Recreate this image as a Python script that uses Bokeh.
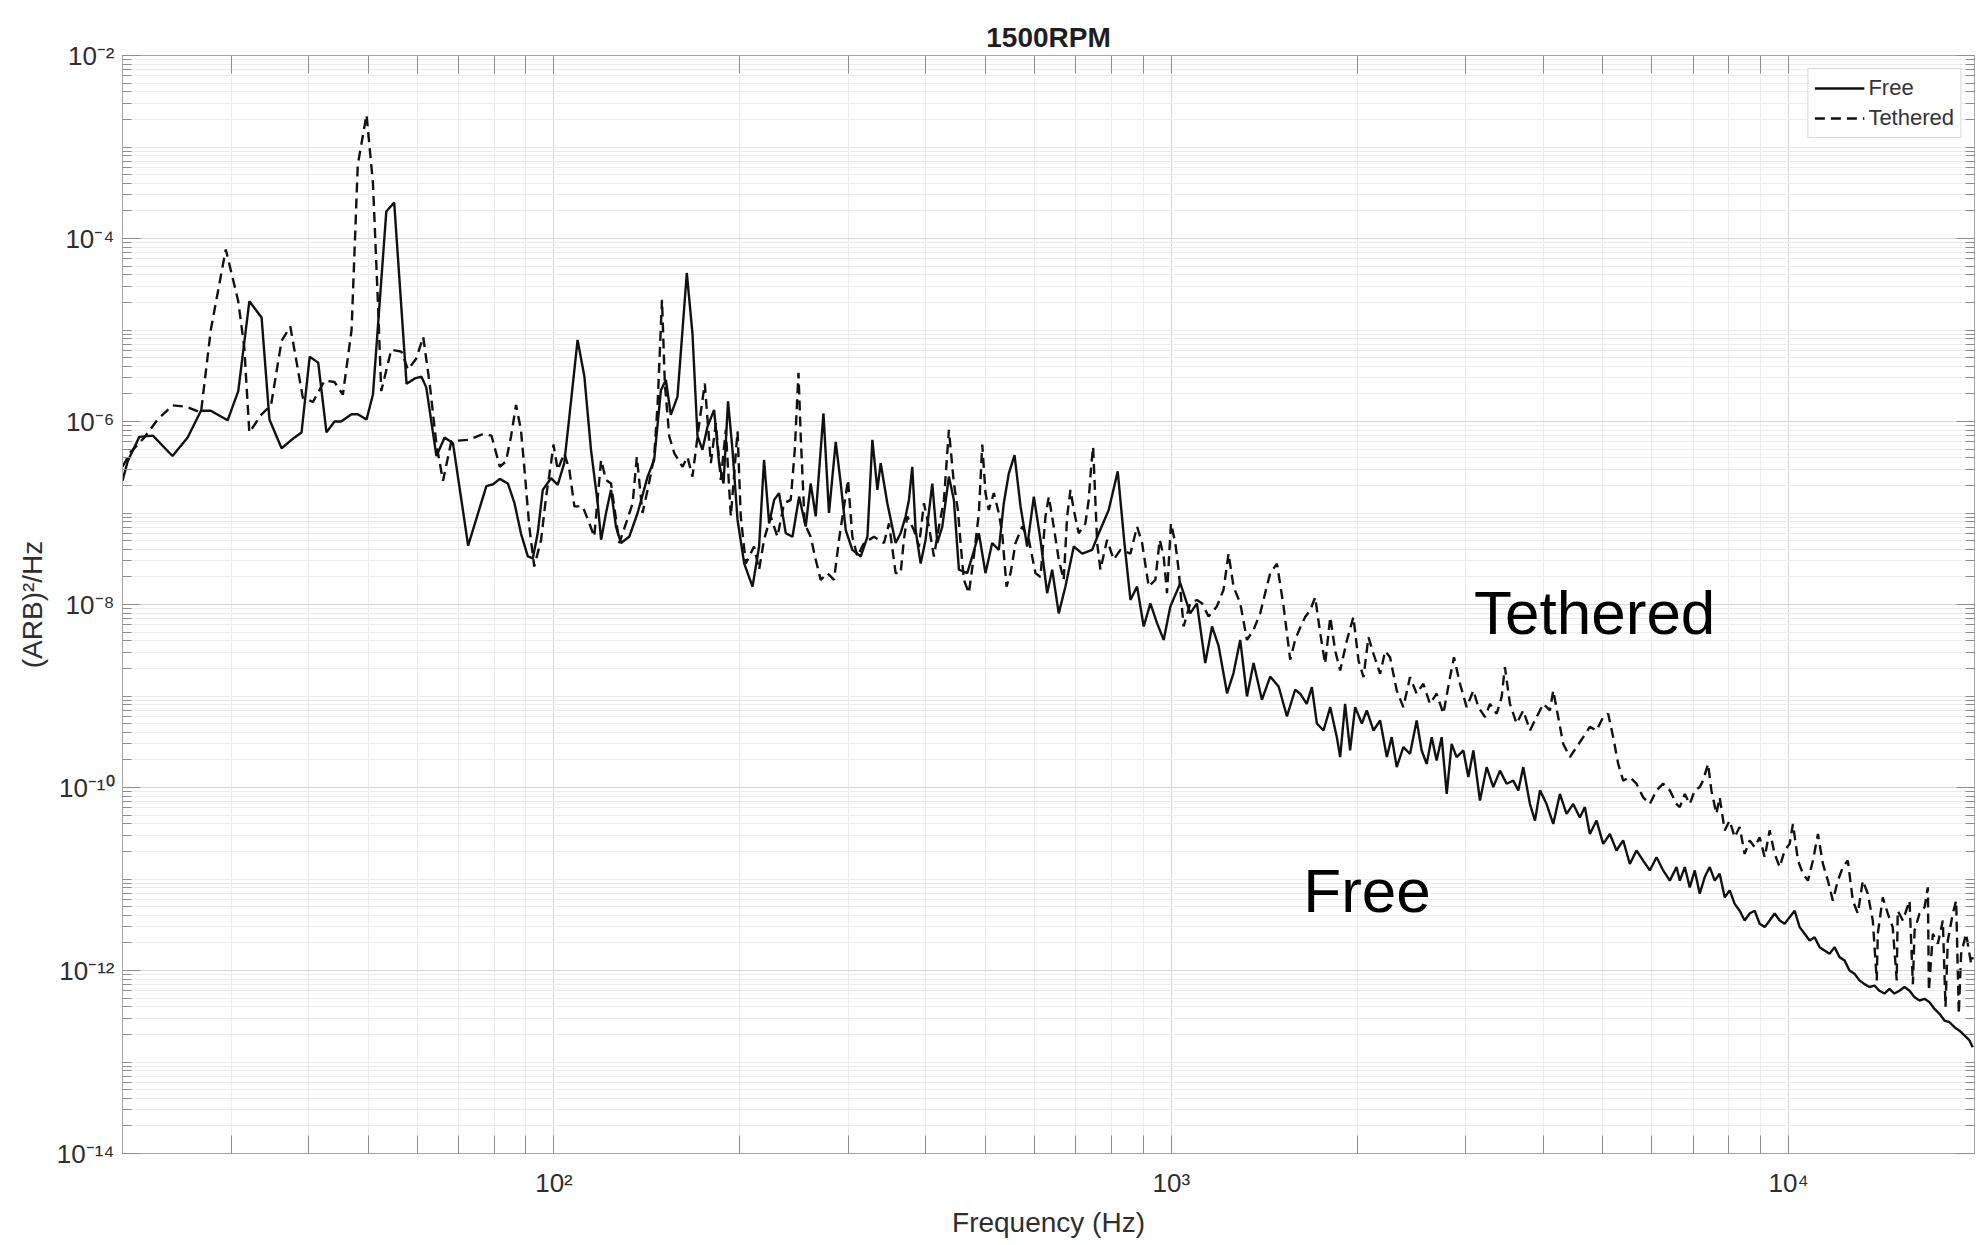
from bokeh.plotting import figure
from bokeh.models import (FixedTicker, LogAxis, CustomJSTickFormatter, Label,
                          Legend, LegendItem)
from bokeh.embed import file_html
from bokeh.resources import INLINE

FONT = "Liberation Sans"

# ---------------- data ----------------
# Free (solid): (frequency Hz, PSD (ARB)^2/Hz)
free_low = [(20.0,2.25e-7),(20.4,3.7e-7),(21.3,6.8e-7),(22.4,7.0e-7),(24.1,4.2e-7),(25.5,6.7e-7),
            (26.8,1.31e-6),(27.8,1.31e-6),(29.6,1.03e-6),(30.8,2.15e-6),(32.1,2.06e-5),(33.6,1.37e-5),
            (34.6,1.05e-6),(36.2,5.1e-7),(38.0,6.7e-7),(39.0,7.6e-7),(40.2,5.1e-6),(41.5,4.4e-6),
            (42.8,7.6e-7),(44.1,1.0e-6),(45.2,1.0e-6),(47.0,1.2e-6),(48.1,1.2e-6),(49.7,1.05e-6),
            (50.9,1.97e-6),(53.5,1.97e-4),(55.1,2.47e-4),(57.7,2.58e-6),(59.5,2.96e-6),(61.0,3.09e-6),
            (62.1,2.36e-6),(64.5,4.2e-7),(66.5,6.7e-7),(68.6,5.8e-7),(72.6,4.4e-8),(77.7,1.97e-7),
            (79.7,2.06e-7),(81.7,2.36e-7)]
free_mid = [(84.2,2.1e-7),(86.3,1.28e-7),(88.4,6.0e-8),(90.7,3.35e-8),(92.4,3.2e-8),(94.1,6.0e-8),
            (95.9,1.79e-7),(98.9,2.4e-7),(101.4,2.03e-7),(103.9,3.5e-7),(105.9,1.13e-6),(109.2,7.8e-6),
            (112.0,3.1e-6),(114.8,4.9e-7),(117.7,1.28e-7),(119.2,5.1e-8),(121.4,9.95e-8),(123.7,1.79e-7),
            (126.0,7.1e-8),(128.4,4.7e-8),(132.4,5.5e-8),(136.6,1.0e-7),(141.8,2.5e-7),(145.3,3.8e-7),
            (149.0,2.2e-6),(151.8,2.85e-6),(154.6,1.18e-6),(158.5,1.87e-6),(161.5,1.0e-5),(164.1,4.2e-5),
            (167.6,9.2e-6),(170.8,6.9e-7),(174.0,4.9e-7),(177.3,8.8e-7),(181.7,1.34e-6),(185.1,3.5e-7),
            (188.2,2.1e-7),(191.4,1.66e-6),(194.6,4.9e-7),(198.3,8.4e-8),(203.3,2.8e-8),(209.7,1.57e-8),
            (214.9,4.3e-8),(218.9,3.8e-7),(223.1,7.7e-8),(227.3,1.39e-7),(231.5,1.65e-7),(237.4,6.0e-8),
            (243.4,5.5e-8),(249.5,1.51e-7),(255.7,7.1e-8),(260.5,2.1e-7),(265.4,9.2e-8),(273.2,1.23e-6),
            (278.9,1.0e-7),(286.0,6.0e-7),(291.4,2.1e-7),(296.9,6.5e-8),(304.3,3.95e-8),(314.0,3.35e-8),
            (321.9,5.5e-8),(327.9,6.3e-7),(334.1,1.79e-7),(338.2,3.5e-7),(346.7,1.28e-7),(357.6,4.7e-8)]
free_upper = [(364.3,6.0e-8),(371.2,9.2e-8),(375.8,1.39e-7),(380.5,3.2e-7),(385.3,6.5e-8),(392.6,2.8e-8),
              (399.9,5.1e-8),(410.0,2.1e-7),(417.7,4.7e-8),(425.6,7.1e-8),(436.2,2.5e-7),(444.4,1.39e-7),
              (452.8,2.4e-8),(467.1,2.2e-8),(475.9,3.35e-8),(487.8,6.0e-8),(500.0,2.2e-8),(512.6,4.7e-8),
              (525.5,3.95e-8),(535.3,1.28e-7),(545.4,2.7e-7),(557.2,4.3e-7),(569.8,1.18e-7),(584.1,4.3e-8),
              (598.8,1.51e-7),(613.8,5.1e-8),(629.3,1.33e-8),(641.2,2.4e-8),(657.1,8.0e-9),(673.7,1.57e-8),
              (695.0,4.3e-8),(717.1,3.6e-8),(744.3,3.95e-8),(762.9,6.0e-8),(791.7,1.08e-7),(818.8,2.85e-7),
              (839.5,4.7e-8),(858.5,1.12e-8),(880.1,1.57e-8),(902.1,5.75e-9),(924.8,1.03e-8),(948.1,6.25e-9),
              (971.8,4.1e-9),(996.3,9.5e-9),(1034,1.71e-8),(1073,8.0e-9),(1100,1.03e-8),(1135,2.29e-9),
              (1164,5.75e-9),(1193,3.5e-9),(1231,1.07e-9),(1261,1.78e-9),(1293,4.1e-9),(1326,9.9e-10),
              (1359,2.29e-9),(1402,9.1e-10),(1446,1.63e-9),(1492,1.27e-9),(1539,6.0e-10),(1587,1.17e-9)]
free_khz = [(1617,1.06e-9),(1657,8.2e-10),(1689,1.25e-9),(1721,5.0e-10),(1764,4.2e-10),(1809,7.55e-10),
            (1854,3.55e-10),(1877,2.15e-10),(1912,8.2e-10),(1948,2.54e-10),(1985,7.55e-10),(2035,5.0e-10),
            (2073,6.95e-10),(2125,4.2e-10),(2179,5.4e-10),(2234,2.15e-10),(2275,3.55e-10),(2318,1.67e-10),
            (2376,2.76e-10),(2436,2.33e-10),(2497,5.4e-10),(2544,2.54e-10),(2592,1.81e-10),(2641,3.55e-10),
            (2690,1.97e-10),(2741,3.55e-10),(2793,8.5e-11),(2845,3.0e-10),(2898,2.15e-10),(2972,2.54e-10),
            (3028,1.3e-10),(3085,2.54e-10),(3162,7.2e-11),(3242,1.67e-10),(3323,1.01e-10),(3407,1.53e-10),
            (3492,1.1e-10),(3580,1.19e-10),(3648,9.3e-11),(3716,1.67e-10),(3810,6.6e-11),(3882,4.35e-11),
            (3955,9.3e-11),(4054,6.6e-11),(4156,4.0e-11),(4260,8.5e-11),(4367,5.15e-11),(4477,6.6e-11),
            (4589,4.7e-11),(4676,6.1e-11),(4764,3.1e-11),(4884,4.35e-11),(5007,2.42e-11),(5133,3.1e-11),
            (5262,2.05e-11),(5394,2.64e-11),(5530,1.46e-11),(5669,2.05e-11),(5812,1.59e-11),(5958,1.24e-11),
            (6109,1.73e-11),(6262,1.24e-11),(6420,9.6e-12),(6582,1.35e-11)]
free_top = [(6663,9.6e-12),(6788,1.35e-11),(6915,8.1e-12),(7045,1.24e-11),(7177,6.9e-12),(7312,1.05e-11),
            (7449,1.35e-11),(7590,9.6e-12),(7731,1.14e-11),(7877,6.3e-12),(8025,7.5e-12),(8176,5.35e-12),
            (8330,4.5e-12),(8486,3.52e-12),(8646,4.2e-12),(8809,4.5e-12),(8975,3.24e-12),(9144,2.98e-12),
            (9316,3.52e-12),(9491,4.2e-12),(9670,3.52e-12),(9852,3.24e-12),(10037,3.83e-12),(10226,4.5e-12),
            (10418,2.98e-12),(10614,2.52e-12),(10813,2.13e-12),(11016,2.31e-12),(11223,1.8e-12),(11434,1.65e-12),
            (11649,1.52e-12),(11866,1.8e-12),(12089,1.4e-12),(12316,1.29e-12),(12547,1.0e-12),(12783,9.2e-13),
            (13023,7.8e-13),(13268,7.1e-13),(13517,6.6e-13),(13771,6.85e-13),(14030,6.0e-13),(14294,5.6e-13),
            (14562,6.3e-13),(14834,5.6e-13),(15113,6.0e-13),(15406,6.6e-13),(15697,6.0e-13),(15993,5.1e-13),
            (16293,4.7e-13),(16600,4.9e-13),(16912,4.5e-13),(17229,3.8e-13),(17553,3.36e-13),(17883,2.84e-13),
            (18219,2.72e-13),(18561,2.4e-13),(18909,2.2e-13),(19264,1.95e-13),(19627,1.72e-13),(19872,1.45e-13)]

# Tethered (dashed)
teth_low = [(20.0,3.2e-7),(20.6,4.6e-7),(21.7,6.7e-7),(22.8,1.05e-6),(24.1,1.5e-6),(25.4,1.45e-6),
            (26.8,1.25e-6),(27.8,1.0e-5),(29.4,7.6e-5),(30.8,2.06e-5),(31.5,6.4e-6),(32.1,7.6e-7),
            (33.6,1.2e-6),(34.8,1.5e-6),(36.2,7.6e-6),(37.4,1.09e-5),(39.2,1.8e-6),(40.7,1.64e-6),
            (42.5,2.8e-6),(44.1,2.7e-6),(45.5,1.97e-6),(47.0,1.0e-5),(48.1,6.4e-4),(49.7,2.25e-3),
            (50.9,4.06e-4),(51.9,1.72e-5),(52.5,2.15e-6),(54.5,6.1e-6),(56.6,5.8e-6),(58.0,3.7e-6),
            (59.8,4.85e-6),(61.4,8.4e-6),(62.9,2.58e-6),(64.5,5.6e-7),(66.1,2.25e-7),(68.2,6.1e-7),
            (72.6,6.3e-7),(76.8,7.3e-7),(79.2,7.0e-7),(81.7,3.2e-7)]
teth_mid = [(83.6,3.66e-7),(85.2,6.9e-7),(86.8,1.52e-6),(88.4,8.1e-7),(89.5,3.2e-7),(91.2,7.1e-8),
            (92.9,2.6e-8),(95.3,5.1e-8),(97.1,1.51e-7),(98.9,3.5e-7),(99.8,5.6e-7),(101.4,2.96e-7),
            (103.9,4.5e-7),(105.9,2.96e-7),(107.9,1.18e-7),(111.3,1.18e-7),(114.1,7.7e-8),(116.2,5.5e-8),
            (119.2,3.8e-7),(121.4,2.3e-7),(123.7,2.1e-7),(127.6,4.7e-8),(130.8,7.7e-8),(134.1,1.28e-7),
            (136.2,4.1e-7),(139.1,1.0e-7),(141.8,1.79e-7),(145.3,4.1e-7),(147.2,1.58e-6),(149.6,2.14e-5),
            (151.2,2.6e-6),(153.7,6.9e-7),(156.6,4.5e-7),(161.5,3.2e-7),(164.5,4.1e-7),(167.6,2.5e-7),
            (171.9,9.6e-7),(175.5,2.6e-6),(179.5,3.5e-7),(182.9,9.6e-7),(186.3,2.3e-7),(189.8,8.1e-7),
            (193.4,9.2e-8),(198.3,7.8e-7),(200.7,9.2e-8),(204.5,2.8e-8),(210.9,4.3e-8),(214.9,2.4e-8),
            (218.9,5.1e-8),(224.4,9.2e-8),(230.1,5.5e-8),(235.9,1.28e-7),(241.8,1.39e-7),(245.5,4.9e-7),
            (248.9,3.4e-6),(251.0,6.9e-7),(254.7,7.7e-8),(260.5,5.5e-8),(265.4,3.1e-8),(270.4,1.86e-8),
            (277.3,2.2e-8),(284.2,1.86e-8),(289.5,5.1e-8),(295.0,1.18e-7),(299.4,2.3e-7),(304.3,5.5e-8),
            (310.1,3.35e-8),(317.8,4.7e-8),(329.9,5.5e-8),(342.4,4.7e-8),(348.9,7.7e-8),(357.6,2.2e-8)]
teth_upper = [(364.3,2.2e-8),(368.8,5.1e-8),(373.5,9.2e-8),(382.9,6.5e-8),(390.1,4.3e-8),(397.4,1.28e-7),
              (404.9,7.1e-8),(412.5,3.35e-8),(420.3,7.1e-8),(428.2,1.39e-7),(436.2,8.1e-7),(444.4,2.1e-7),
              (451.1,1.08e-7),(455.6,4.7e-8),(461.3,1.86e-8),(469.9,1.33e-8),(478.7,3.35e-8),(487.8,9.95e-8),
              (494.0,5.6e-7),(500.0,1.65e-7),(506.2,1.08e-7),(515.8,1.65e-7),(525.5,9.95e-8),(532.1,6.0e-8),
              (540.8,1.57e-8),(549.0,2.2e-8),(559.3,4.7e-8),(573.4,7.1e-8),(587.7,5.1e-8),(602.5,2.2e-8),
              (613.8,2.0e-8),(625.4,9.2e-8),(633.2,1.51e-7),(644.9,7.1e-8),(657.1,3.1e-8),(669.4,1.86e-8),
              (678.0,9.2e-8),(686.5,1.79e-7),(695.0,1.08e-7),(707.9,6.0e-8),(725.8,7.7e-8),(734.8,1.39e-7),
              (741.5,3.2e-7),(747.0,5.3e-7),(758.3,4.7e-8),(767.6,2.4e-8),(787.0,5.1e-8),(806.5,3.1e-8),
              (827.0,3.95e-8),(858.5,3.6e-8),(880.1,7.1e-8),(896.7,4.7e-8),(919.1,1.57e-8),(942.2,1.86e-8),
              (957.6,5.1e-8),(971.8,3.35e-8),(984.0,1.33e-8),(998.8,7.7e-8),(1015,4.7e-8),(1027.5,2.4e-8),
              (1046.9,5.75e-9),(1073,1.03e-8),(1100,1.12e-8),(1121,1.03e-8),(1149,7.4e-9),(1185,9.5e-9),
              (1215,1.45e-8),(1238,3.6e-8),(1261,1.57e-8),(1293,1.03e-8),(1326,4.1e-9),(1359,5.3e-9),
              (1393,8.0e-9),(1419,1.33e-8),(1446,2.2e-8),(1483,2.8e-8),(1520,9.5e-9),(1558,2.5e-9),
              (1587,4.1e-9)]
teth_khz = [(1617,5.6e-9),(1647,7.3e-9),(1678,8.6e-9),(1710,1.2e-8),(1743,4.8e-9),(1775,2.25e-9),
            (1809,7.3e-9),(1843,3.1e-9),(1877,1.9e-9),(1924,4.0e-9),(1972,7.3e-9),(2010,2.44e-9),
            (2048,1.61e-9),(2086,4.4e-9),(2125,2.9e-9),(2179,1.75e-9),(2220,3.1e-9),(2261,2.65e-9),
            (2318,1.15e-9),(2376,7.55e-10),(2436,1.61e-9),(2497,1.06e-9),(2560,1.36e-9),(2624,8.2e-10),
            (2690,1.06e-9),(2758,6.4e-10),(2828,1.61e-9),(2870,2.65e-9),(2935,1.36e-9),(3009,7.55e-10),
            (3085,1.15e-9),(3143,7.55e-10),(3222,5.9e-10),(3282,8.2e-10),(3365,6.4e-10),(3428,9.7e-10),
            (3470,2.07e-9),(3536,8.2e-10),(3625,5.0e-10),(3716,6.95e-10),(3810,4.2e-10),(3906,5.9e-10),
            (4004,8.2e-10),(4104,6.95e-10),(4156,1.15e-9),(4233,5.9e-10),(4313,3.0e-10),(4422,2.15e-10),
            (4533,2.76e-10),(4647,3.55e-10),(4764,4.6e-10),(4884,4.2e-10),(5007,5.9e-10),(5101,6.4e-10),
            (5197,3.55e-10),(5295,1.81e-10),(5394,1.19e-10),(5530,1.3e-10),(5669,1.1e-10),(5812,7.8e-11),
            (5958,6.6e-11),(6109,9.3e-11),(6262,1.1e-10),(6420,9.3e-11),(6582,6.6e-11)]
teth_top = [(6663,6.1e-11),(6788,8.5e-11),(6915,6.6e-11),(7045,9.3e-11),(7177,1.01e-10),(7267,1.19e-10),
            (7403,1.81e-10),(7496,9.3e-11),(7637,5.15e-11),(7731,7.8e-11),(7877,3.4e-11),(8025,4.35e-11),
            (8176,2.86e-11),(8330,3.7e-11),(8486,1.88e-11),(8646,2.64e-11),(8809,2.23e-11),(8975,2.86e-11),
            (9144,1.73e-11),(9316,3.4e-11),(9491,1.88e-11),(9670,1.35e-11),(9852,2.05e-11),(10037,2.42e-11),
            (10162,4.0e-11),(10354,1.59e-11),(10548,1.14e-11),(10746,9.6e-12),(10948,1.59e-11),(11154,3.1e-11),
            (11363,1.46e-11),(11576,9.6e-12),(11792,5.8e-12),(12014,9.6e-12),(12240,1.35e-11),(12469,1.59e-11),
            (12704,5.8e-12),(12943,4.2e-12),(13186,9.6e-12),(13433,6.9e-12),(13686,3.52e-12),(13890,7.8e-13),
            (13943,2.52e-12),(14205,6.3e-12),(14472,4.2e-12),(14742,2.98e-12),(14964,7.8e-13),(15020,4.5e-12),
            (15311,3.52e-12),(15697,5.8e-12),(15893,7.1e-13),(15993,2.74e-12),(16293,4.2e-12),(16600,4.9e-12),
            (16807,8.1e-12),(16870,6.0e-13),(17124,2.52e-12),(17444,1.96e-12),(17772,3.52e-12),(17949,4.0e-13),
            (18106,2.13e-12),(18446,4.2e-12),(18676,5.8e-12),(18862,3.36e-13),(19027,1.52e-12),(19384,2.52e-12),
            (19749,1.18e-12),(19872,1.4e-12)]

free_pts = free_low + free_mid + free_upper + free_khz + free_top
teth_pts = teth_low + teth_mid + teth_upper + teth_khz + teth_top
free_freq = [f for f, v in free_pts]
free_psd = [v for f, v in free_pts]
teth_freq = [f for f, v in teth_pts]
teth_psd = [v for f, v in teth_pts]

x_major = [100, 1000, 10000]
x_minor = [m * d for d in (10, 100, 1000) for m in range(2, 10) if 20 <= m * d <= 20000 and m * d not in x_major]
y_major = [10.0 ** e for e in range(-14, -1, 2)]
y_minor = [m * 10.0 ** e for e in range(-14, -2) for m in range(1, 10) if not (m == 1 and e % 2 == 0)]

# ---------------- figure ----------------
p = figure(x_axis_type="log", y_axis_type="log", x_range=(20, 20000), y_range=(1e-14, 1e-2),
           frame_width=1852, frame_height=1098,
           min_border_left=122, min_border_right=5, min_border_top=55, min_border_bottom=86,
           output_backend="svg", toolbar_location=None, title="1500RPM")
p.background_fill_color = "white"
p.border_fill_color = "white"
p.outline_line_color = "#a6a6a6"
p.outline_line_width = 1

p.title.text_font = FONT
p.title.text_font_size = "28px"
p.title.text_font_style = "bold"
p.title.text_color = "#1e1e1e"
p.title.align = "center"
p.title.standoff = 6

sup_code = """
const s = {"-":"\u207b","0":"\u2070","1":"\u00b9","2":"\u00b2","3":"\u00b3","4":"\u2074",
           "5":"\u2075","6":"\u2076","7":"\u2077","8":"\u2078","9":"\u2079"};
const e = Math.round(Math.log10(tick));
return "10" + String(e).split("").map(c => s[c]).join("");
"""
xt = FixedTicker(ticks=x_major, minor_ticks=x_minor)
yt = FixedTicker(ticks=y_major, minor_ticks=y_minor)

for ax, tk, minor_len in ((p.xaxis[0], xt, 18), (p.yaxis[0], yt, 9)):
    ax.ticker = tk
    ax.formatter = CustomJSTickFormatter(code=sup_code)
    ax.major_label_text_font = FONT
    ax.major_label_text_font_size = "26px"
    ax.major_label_text_color = "#2e2e2e"
    ax.axis_label_text_font = FONT
    ax.axis_label_text_font_size = "28px"
    ax.axis_label_text_font_style = "normal"
    ax.axis_label_text_color = "#2e2e2e"
    ax.axis_line_color = "#a6a6a6"
    ax.major_tick_line_color = "#8c8c8c"
    ax.minor_tick_line_color = "#8c8c8c"
    ax.major_tick_in = 18
    ax.major_tick_out = 0
    ax.minor_tick_in = minor_len
    ax.minor_tick_out = 0

p.xaxis.axis_label = "Frequency (Hz)"
p.xaxis.major_label_standoff = 14
p.xaxis.axis_label_standoff = 6
p.yaxis.axis_label = "(ARB)\u00b2/Hz"
p.yaxis.major_label_standoff = 8
p.yaxis.axis_label_standoff = 6

# box ticks on top and right
top_ax = LogAxis(ticker=xt, formatter=CustomJSTickFormatter(code="return ''"),
                 major_tick_in=18, major_tick_out=0, minor_tick_in=18, minor_tick_out=0,
                 major_label_text_font_size="0px", major_label_standoff=0,
                 axis_line_color="#a6a6a6", major_tick_line_color="#8c8c8c", minor_tick_line_color="#8c8c8c")
right_ax = LogAxis(ticker=yt, formatter=CustomJSTickFormatter(code="return ''"),
                   major_tick_in=18, major_tick_out=0, minor_tick_in=9, minor_tick_out=0,
                   major_label_text_font_size="0px", major_label_standoff=0,
                   axis_line_color="#a6a6a6", major_tick_line_color="#8c8c8c", minor_tick_line_color="#8c8c8c")
p.add_layout(top_ax, "above")
p.add_layout(right_ax, "right")

p.xgrid.ticker = xt
p.ygrid.ticker = yt
for g in (p.xgrid[0], p.ygrid[0]):
    g.grid_line_color = "#d6d6d6"
    g.grid_line_width = 1
    g.minor_grid_line_color = "#ececec"
    g.minor_grid_line_width = 1

r_free = p.line(free_freq, free_psd, line_color="#111111", line_width=2.4)
r_teth = p.line(teth_freq, teth_psd, line_color="#111111", line_width=2.4, line_dash="10 6")

legend = Legend(items=[LegendItem(label="Free", renderers=[r_free]),
                       LegendItem(label="Tethered", renderers=[r_teth])],
                location="top_right", margin=13, padding=6, spacing=4,
                glyph_width=50, glyph_height=22, label_height=22, label_standoff=4,
                label_text_font=FONT, label_text_font_size="22px", label_text_color="#333333",
                border_line_color="#b0b0b0", border_line_width=1, background_fill_color="white")
p.add_layout(legend)

p.add_layout(Label(x=3093, y=8.2e-9, text="Tethered", text_font=FONT, text_font_size="62px",
                   text_color="black", text_baseline="alphabetic"))
p.add_layout(Label(x=1636, y=7.57e-12, text="Free", text_font=FONT, text_font_size="62px",
                   text_color="black", text_baseline="alphabetic"))

open("out.html", "w").write(file_html(p, INLINE))
